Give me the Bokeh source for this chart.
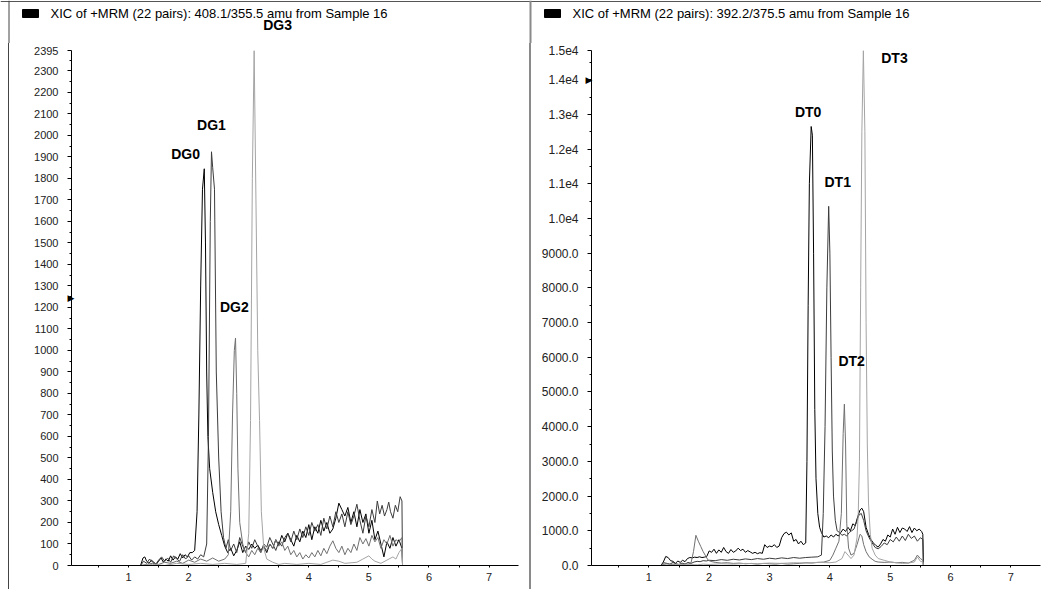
from bokeh.plotting import figure
from bokeh.models import Range1d, FixedTicker, Label, BoxAnnotation, Div, Span, LinearAxis
from bokeh.layouts import row, column
from bokeh.embed import file_html
from bokeh.resources import INLINE

FONT = "Liberation Sans"

# ---------------- data ----------------
left_title = "XIC of +MRM (22 pairs): 408.1/355.5 amu from Sample 16"
right_title = "XIC of +MRM (22 pairs): 392.2/375.5 amu from Sample 16"

x_ticks = [1, 2, 3, 4, 5, 6, 7]

left_y_ticks = [0, 100, 200, 300, 400, 500, 600, 700, 800, 900, 1000, 1100, 1200,
                1300, 1400, 1500, 1600, 1700, 1800, 1900, 2000, 2100, 2200, 2300, 2395]
left_y_labels = ["0", "100", "200", "300", "400", "500", "600", "700", "800", "900", "1000",
                 "1100", "1200", "1300", "1400", "1500", "1600", "1700", "1800", "1900",
                 "2000", "2100", "2200", "2300", "2395"]
left_y_max = 2395

right_y_ticks = [0, 1000, 2000, 3000, 4000, 5000, 6000, 7000, 8000, 9000, 10000,
                 11000, 12000, 13000, 14000, 14840]
right_y_labels = ["0.0", "1000.0", "2000.0", "3000.0", "4000.0", "5000.0", "6000.0",
                  "7000.0", "8000.0", "9000.0", "1.0e4", "1.1e4", "1.2e4", "1.3e4",
                  "1.4e4", "1.5e4"]
right_y_max = 14840

# Left panel traces (time in min, intensity in cps)
dg0_t = [1.20, 1.24, 1.27, 1.30, 1.34, 1.38, 1.42, 1.46, 1.50, 1.54,
         1.58, 1.62, 1.66, 1.70, 1.74, 1.78, 1.82, 1.86, 1.90, 1.94,
         1.98, 2.02, 2.06, 2.10, 2.14, 2.17, 2.20, 2.23, 2.26, 2.28,
         2.30, 2.32, 2.35, 2.40, 2.45, 2.50, 2.55, 2.60, 2.65, 2.70,
         2.75, 2.80, 2.85, 2.90, 2.95, 3.00, 3.05, 3.10, 3.15, 3.20,
         3.25, 3.30, 3.35, 3.40, 3.45, 3.50, 3.55, 3.60, 3.65, 3.70,
         3.75, 3.80, 3.85, 3.90, 3.95, 4.00, 4.05, 4.10, 4.15, 4.20,
         4.25, 4.30, 4.35, 4.40, 4.45, 4.50, 4.55, 4.60, 4.65, 4.70,
         4.75, 4.80, 4.85, 4.90, 4.95, 5.00, 5.05, 5.10, 5.15, 5.20,
         5.25, 5.30, 5.35, 5.40, 5.45, 5.50, 5.55, 5.56, 5.60]
dg0_y = [0, 35, 40, 20, 10, 25, 15, 5, 20, 35,
         15, 30, 20, 45, 25, 40, 30, 55, 35, 50,
         40, 60, 60, 70, 250, 700, 1300, 1750, 1845, 1500,
         900, 600, 450, 340, 250, 190, 140, 90, 60, 80,
         45, 70, 110, 60, 90, 75, 100, 80, 95, 70,
         90, 60, 100, 80, 120, 95, 140, 110, 150, 120,
         90, 140, 110, 160, 130, 190, 120, 180, 150, 210,
         160, 200, 150, 170, 220, 290, 260, 230, 270, 200,
         250, 180, 260, 200, 240, 150, 210, 120, 160, 100,
         40, 110, 80, 130, 90, 120, 80, 0, 0]

dg1_t = [1.20, 1.25, 1.30, 1.35, 1.40, 1.45, 1.50, 1.55, 1.60, 1.65,
         1.70, 1.75, 1.80, 1.85, 1.90, 1.95, 2.00, 2.05, 2.10, 2.15,
         2.20, 2.25, 2.30, 2.33, 2.36, 2.38, 2.40, 2.43, 2.46, 2.50,
         2.54, 2.58, 2.62, 2.66, 2.70, 2.75, 2.80, 2.85, 2.90, 2.95,
         3.00, 3.05, 3.10, 3.15, 3.20, 3.25, 3.30, 3.35, 3.40, 3.45,
         3.50, 3.55, 3.60, 3.65, 3.70, 3.75, 3.80, 3.85, 3.90, 3.95,
         4.00, 4.05, 4.10, 4.15, 4.20, 4.25, 4.30, 4.35, 4.40, 4.45,
         4.50, 4.55, 4.60, 4.65, 4.70, 4.75, 4.80, 4.85, 4.90, 4.95,
         5.00, 5.05, 5.10, 5.14, 5.18, 5.22, 5.26, 5.30, 5.33, 5.36,
         5.40, 5.44, 5.48, 5.52, 5.55, 5.56, 5.60]
dg1_y = [0, 20, 10, 30, 15, 5, 25, 40, 20, 35,
         15, 45, 30, 20, 50, 30, 45, 25, 40, 30,
         50, 40, 100, 600, 1600, 1924, 1850, 1750, 900, 500,
         250, 130, 80, 120, 70, 100, 60, 130, 90, 60,
         110, 80, 120, 90, 60, 100, 85, 130, 100, 70,
         110, 90, 130, 150, 110, 160, 120, 170, 130, 180,
         140, 200, 160, 190, 140, 220, 170, 230, 180, 250,
         200, 240, 180, 250, 190, 230, 285, 210, 150, 230,
         180, 260, 200, 300, 240, 280, 230, 260, 295, 250,
         220, 280, 250, 320, 300, 0, 0]

dg2_t = [1.20, 1.30, 1.40, 1.50, 1.60, 1.70, 1.80, 1.90, 2.00, 2.10,
         2.20, 2.30, 2.40, 2.50, 2.60, 2.66, 2.70, 2.73, 2.76, 2.78,
         2.80, 2.82, 2.85, 2.90, 2.95, 3.00, 3.05, 3.10, 3.15, 3.20,
         3.25, 3.30, 3.35, 3.40, 3.45, 3.50, 3.55, 3.60, 3.65, 3.70,
         3.75, 3.80, 3.85, 3.90, 3.95, 4.00, 4.05, 4.10, 4.15, 4.20,
         4.25, 4.30, 4.35, 4.40, 4.45, 4.50, 4.55, 4.60, 4.65, 4.70,
         4.75, 4.80, 4.85, 4.90, 4.95, 5.00, 5.05, 5.10, 5.15, 5.20,
         5.25, 5.30, 5.35, 5.40, 5.45, 5.50, 5.55, 5.56, 5.60]
dg2_y = [0, 5, 10, 5, 15, 10, 20, 10, 25, 15,
         30, 20, 35, 20, 30, 50, 250, 700, 1000, 1058,
         800, 450, 200, 100, 60, 40, 70, 50, 80, 60,
         90, 70, 100, 80, 120, 90, 110, 70, 90, 50,
         70, 40, 60, 30, 50, 35, 60, 40, 70, 45,
         80, 55, 90, 115, 80, 60, 90, 50, 80, 60,
         100, 70, 130, 100, 125, 90, 140, 110, 130, 80,
         120, 100, 140, 90, 120, 110, 130, 0, 0]

dg3_t = [1.20, 1.40, 1.60, 1.80, 2.00, 2.20, 2.40, 2.60, 2.80, 2.95,
         3.00, 3.03, 3.06, 3.09, 3.12, 3.15, 3.18, 3.21, 3.25, 3.30,
         3.40, 3.50, 3.60, 3.80, 4.00, 4.20, 4.30, 4.40, 4.50, 4.60,
         4.80, 4.90, 5.00, 5.05, 5.10, 5.20, 5.30, 5.40, 5.45, 5.50,
         5.55, 5.56, 5.60]
dg3_y = [0, 5, 0, 10, 5, 10, 5, 10, 5, 10,
         150, 674, 1800, 2395, 1700, 1000, 674, 250, 80, 30,
         15, 5, 10, 5, 10, 5, 15, 25, 20, 10,
         15, 30, 45, 30, 20, 10, 25, 40, 30, 60,
         80, 0, 0]

# Right panel traces
dt0_t = [1.20, 1.24, 1.28, 1.32, 1.36, 1.40, 1.44, 1.48, 1.52, 1.56,
         1.60, 1.64, 1.68, 1.72, 1.76, 1.80, 1.84, 1.88, 1.92, 1.96,
         2.00, 2.04, 2.08, 2.12, 2.16, 2.20, 2.24, 2.28, 2.32, 2.36,
         2.40, 2.44, 2.48, 2.52, 2.56, 2.60, 2.64, 2.68, 2.72, 2.76,
         2.80, 2.84, 2.88, 2.92, 2.96, 3.00, 3.04, 3.08, 3.12, 3.16,
         3.20, 3.24, 3.28, 3.32, 3.36, 3.40, 3.44, 3.48, 3.52, 3.56,
         3.60, 3.62, 3.64, 3.66, 3.69, 3.71, 3.73, 3.75, 3.77, 3.80,
         3.83, 3.86, 3.90, 3.94, 3.98, 4.02, 4.06, 4.10, 4.14, 4.18,
         4.22, 4.26, 4.30, 4.34, 4.38, 4.42, 4.46, 4.50, 4.53, 4.56,
         4.60, 4.64, 4.68, 4.72, 4.76, 4.80, 4.84, 4.88, 4.92, 4.96,
         5.00, 5.04, 5.08, 5.12, 5.16, 5.20, 5.24, 5.28, 5.32, 5.36,
         5.40, 5.44, 5.48, 5.52, 5.54, 5.55, 5.60]
dt0_y = [0, 100, 260, 230, 140, 120, 60, 130, 90, 150,
         110, 200, 230, 220, 240, 230, 250, 230, 240, 260,
         420, 380, 470, 350, 450, 380, 520, 400, 350, 460,
         380, 420, 500, 430, 470, 380, 430, 390, 350, 380,
         340, 370, 350, 600, 520, 560, 540, 600, 520, 560,
         800, 920, 960, 880, 940, 700, 750, 620, 700, 600,
         650, 3000, 7500, 11000, 12650, 12400, 9000, 4500, 2500, 1500,
         1100, 950, 820, 850, 800, 880, 820, 900, 850, 950,
         1050, 980, 1100, 1000, 1200, 1150, 1400, 1600, 1650, 1550,
         1100, 900, 750, 650, 580, 530, 620, 750, 700, 880,
         820, 1050, 900, 1100, 950, 1080, 1050, 980, 1120, 950,
         1080, 1000, 1050, 980, 900, 0, 0]

dt1_t = [1.20, 1.25, 1.30, 1.35, 1.40, 1.45, 1.50, 1.55, 1.60, 1.65,
         1.70, 1.75, 1.80, 1.85, 1.90, 1.95, 2.00, 2.10, 2.20, 2.30,
         2.40, 2.50, 2.60, 2.70, 2.80, 2.90, 3.00, 3.10, 3.20, 3.30,
         3.40, 3.50, 3.60, 3.70, 3.80, 3.86, 3.89, 3.92, 3.95, 3.98,
         4.00, 4.02, 4.04, 4.06, 4.09, 4.12, 4.16, 4.20, 4.24, 4.28,
         4.32, 4.36, 4.40, 4.44, 4.48, 4.52, 4.56, 4.60, 4.65, 4.70,
         4.75, 4.80, 4.85, 4.90, 4.95, 5.00, 5.05, 5.10, 5.15, 5.20,
         5.25, 5.30, 5.35, 5.40, 5.45, 5.50, 5.54, 5.55, 5.60]
dt1_y = [0, 80, 60, 40, 90, 50, 30, 70, 40, 90,
         60, 100, 120, 110, 140, 130, 150, 140, 170, 150,
         180, 160, 190, 170, 200, 180, 210, 190, 220, 200,
         230, 210, 230, 240, 250, 300, 1500, 4000, 8000, 10350,
         9000, 6000, 3300, 2000, 1300, 1000, 950, 870, 900, 850,
         950, 1000, 1050, 1250, 1450, 1500, 1300, 1000, 800, 650,
         520, 480, 550, 650, 600, 750, 680, 820, 700, 850,
         720, 900, 780, 850, 700, 800, 750, 0, 0]

dt2_t = [1.20, 1.25, 1.30, 1.35, 1.40, 1.45, 1.50, 1.55, 1.60, 1.65,
         1.70, 1.74, 1.78, 1.82, 1.86, 1.90, 1.94, 1.98, 2.02, 2.10,
         2.20, 2.30, 2.40, 2.50, 2.60, 2.70, 2.80, 2.90, 3.00, 3.10,
         3.20, 3.30, 3.40, 3.50, 3.60, 3.70, 3.80, 3.90, 4.00, 4.05,
         4.10, 4.15, 4.19, 4.22, 4.24, 4.26, 4.28, 4.31, 4.35, 4.40,
         4.45, 4.50, 4.53, 4.56, 4.60, 4.65, 4.70, 4.75, 4.80, 4.90,
         5.00, 5.10, 5.20, 5.30, 5.40, 5.45, 5.50, 5.54, 5.55, 5.60]
dt2_y = [0, 30, 60, 20, 40, 10, 30, 20, 50, 40,
         80, 400, 870, 700, 550, 400, 280, 160, 120, 90,
         70, 80, 60, 70, 50, 60, 40, 60, 50, 40,
         60, 40, 50, 60, 80, 70, 90, 100, 150, 300,
         500, 700, 1500, 3800, 4650, 3500, 1200, 500, 300, 350,
         600, 900, 850, 600, 400, 250, 180, 120, 100, 90,
         100, 80, 90, 70, 150, 300, 200, 150, 0, 0]

dt3_t = [1.20, 1.30, 1.40, 1.50, 1.60, 1.70, 1.80, 1.90, 2.00, 2.20,
         2.40, 2.60, 2.80, 3.00, 3.20, 3.40, 3.60, 3.80, 4.00, 4.10,
         4.20, 4.25, 4.30, 4.35, 4.40, 4.45, 4.47, 4.49, 4.51, 4.53,
         4.555, 4.58, 4.60, 4.62, 4.64, 4.67, 4.70, 4.75, 4.80, 4.90,
         5.00, 5.10, 5.20, 5.30, 5.40, 5.45, 5.50, 5.54, 5.55, 5.60]
dt3_y = [0, 20, 10, 30, 15, 25, 20, 40, 30, 50,
         40, 60, 50, 70, 60, 80, 70, 90, 80, 100,
         200, 400, 300, 200, 300, 800, 1500, 3000, 8000, 12500,
         14840, 12500, 7000, 3500, 1800, 900, 500, 300, 200, 150,
         100, 80, 60, 70, 100, 250, 120, 100, 0, 0]

# peak labels (name, retention time, intensity); DG3 sits above the axis top
dg_names = ["DG0", "DG1", "DG2"]
dg_label_t = [1.95, 2.38, 2.76]
dg_label_y = [1916, 2047, 1200]
dg_top_name = "DG3"
dg_top_t = 3.48

dt_names = ["DT0", "DT1", "DT2", "DT3"]
dt_label_t = [3.64, 4.13, 4.36, 5.07]
dt_label_y = [13055, 11037, 5879, 14610]

left_marker_y = 1242
right_marker_y = 14000

trace_colors = ["#000000", "#3c3c3c", "#707070", "#a4a4a4"]

# ---------------- layout constants (page pixels) ----------------
X0, X1 = 0.05, 7.49
PAGE_W = 1041
HEAD_H = 43
MAIN_H = 546
TOP_PAD = 7
BOTTOM_PAD = 24
PAD_L = 8
L_W, R_W = 520, 510
L_LEFT, L_RIGHT = 62, 11
R_LEFT, R_RIGHT = 60, 1
L_FIG_X = PAD_L + 1
R_FIG_X = L_FIG_X + L_W + 2


def make_panel(width, min_left, min_right, y_max, y_ticks, y_labels, y_minor_step,
               ylab_size, traces, names, lab_t, lab_y, marker_y, marker_standoff):
    p = figure(width=width, height=MAIN_H, output_backend="svg", toolbar_location=None,
               x_range=Range1d(X0, X1), y_range=Range1d(0, y_max),
               min_border_left=min_left, min_border_right=min_right,
               min_border_top=TOP_PAD, min_border_bottom=BOTTOM_PAD)
    p.outline_line_color = None
    p.grid.visible = False
    p.background_fill_color = "white"
    p.border_fill_color = "white"

    xa = p.xaxis[0]
    xa.ticker = FixedTicker(ticks=x_ticks, minor_ticks=[v + 0.5 for v in [0] + x_ticks])
    xa.major_label_text_font = FONT
    xa.major_label_text_font_size = "11px"
    xa.major_label_text_color = "#222222"
    xa.major_tick_in = 0
    xa.major_tick_out = 2
    xa.minor_tick_in = 0
    xa.minor_tick_out = 2
    xa.major_label_standoff = 5
    xa.axis_line_color = "black"

    ya = p.yaxis[0]
    minor = [v + y_minor_step for v in y_ticks[:-1]]
    ya.ticker = FixedTicker(ticks=y_ticks, minor_ticks=minor)
    ya.major_label_overrides = dict(zip(y_ticks, y_labels))
    ya.major_label_text_font = FONT
    ya.major_label_text_font_size = ylab_size
    ya.major_label_text_color = "#222222"
    ya.major_tick_in = 0
    ya.major_tick_out = 4
    ya.minor_tick_in = 0
    ya.minor_tick_out = 2
    ya.major_label_standoff = 9
    ya.axis_line_color = "black"

    # small position marker drawn just left of the y axis line
    marker_axis = LinearAxis(ticker=FixedTicker(ticks=[marker_y], minor_ticks=[]),
                             major_label_overrides={marker_y: "\u25B6"},
                             axis_line_color=None, major_tick_line_color=None,
                             minor_tick_line_color=None,
                             major_tick_in=0, major_tick_out=0,
                             minor_tick_in=0, minor_tick_out=0,
                             major_label_standoff=marker_standoff,
                             major_label_text_font="DejaVu Sans",
                             major_label_text_font_size="9px",
                             major_label_text_color="black")
    p.add_layout(marker_axis, "left")

    for (tt, yy), c in zip(traces, trace_colors):
        p.line(tt, yy, line_color=c, line_width=1)

    for n, tx, ty in zip(names, lab_t, lab_y):
        p.add_layout(Label(x=tx, y=ty, text=n, text_font=FONT, text_font_style="bold",
                           text_font_size="14px", text_align="center",
                           text_baseline="middle", text_color="black"))
    return p


# ---- header strip (titles, legend squares, label above the left axis top) ----
head = figure(width=PAGE_W, height=HEAD_H, output_backend="svg", toolbar_location=None,
              x_range=Range1d(0, PAGE_W), y_range=Range1d(0, HEAD_H),
              x_axis_location=None, y_axis_location=None,
              min_border_left=0, min_border_right=0, min_border_top=0, min_border_bottom=0)
head.outline_line_color = None
head.grid.visible = False
head.background_fill_color = "white"
head.border_fill_color = "white"

head.add_layout(Span(location=HEAD_H - 1, dimension="width", line_color="#555555", line_width=1))
head.add_layout(Span(location=PAD_L + 0.5, dimension="height", line_color="#444444", line_width=1))
head.add_layout(Span(location=L_FIG_X + L_W + 1, dimension="height", line_color="#8a8a8a",
                     line_width=2))

for fig_x, title in [(L_FIG_X, left_title), (R_FIG_X, right_title)]:
    head.add_layout(BoxAnnotation(left=fig_x + 13, right=fig_x + 29,
                                  top=HEAD_H - 9, bottom=HEAD_H - 17,
                                  fill_color="black", fill_alpha=1.0,
                                  line_color="black", line_alpha=1.0, line_dash="solid"))
    head.add_layout(Label(x=fig_x + 41, y=HEAD_H - 13, text=title, text_font=FONT,
                          text_font_size="13px", text_align="left", text_baseline="middle",
                          text_color="black"))

# DG3 label: map its retention time with the left panel's x scale
l_scale = (L_W - L_LEFT - L_RIGHT) / (X1 - X0)
head.add_layout(Label(x=L_FIG_X + L_LEFT + (dg_top_t - X0) * l_scale, y=HEAD_H - 24,
                      text=dg_top_name, text_font=FONT, text_font_style="bold",
                      text_font_size="14px", text_align="center", text_baseline="middle",
                      text_color="black"))

p1 = make_panel(L_W, L_LEFT, L_RIGHT, left_y_max, left_y_ticks, left_y_labels, 50, "11px",
                [(dg0_t, dg0_y), (dg1_t, dg1_y), (dg2_t, dg2_y), (dg3_t, dg3_y)],
                dg_names, dg_label_t, dg_label_y, left_marker_y, -43)
p2 = make_panel(R_W, R_LEFT, R_RIGHT, right_y_max, right_y_ticks, right_y_labels, 500, "12px",
                [(dt0_t, dt0_y), (dt1_t, dt1_y), (dt2_t, dt2_y), (dt3_t, dt3_y)],
                dt_names, dt_label_t, dt_label_y, right_marker_y, -54)

pad = Div(text="", width=PAD_L, height=MAIN_H, margin=0)
left_line = Div(text="", width=1, height=MAIN_H, margin=0, styles={"background-color": "#444444"})
sep_line = Div(text="", width=2, height=MAIN_H, margin=0, styles={"background-color": "#8a8a8a"})

layout = column(head, row(pad, left_line, p1, sep_line, p2, spacing=0), spacing=0)

open("out.html", "w").write(file_html(layout, INLINE))
